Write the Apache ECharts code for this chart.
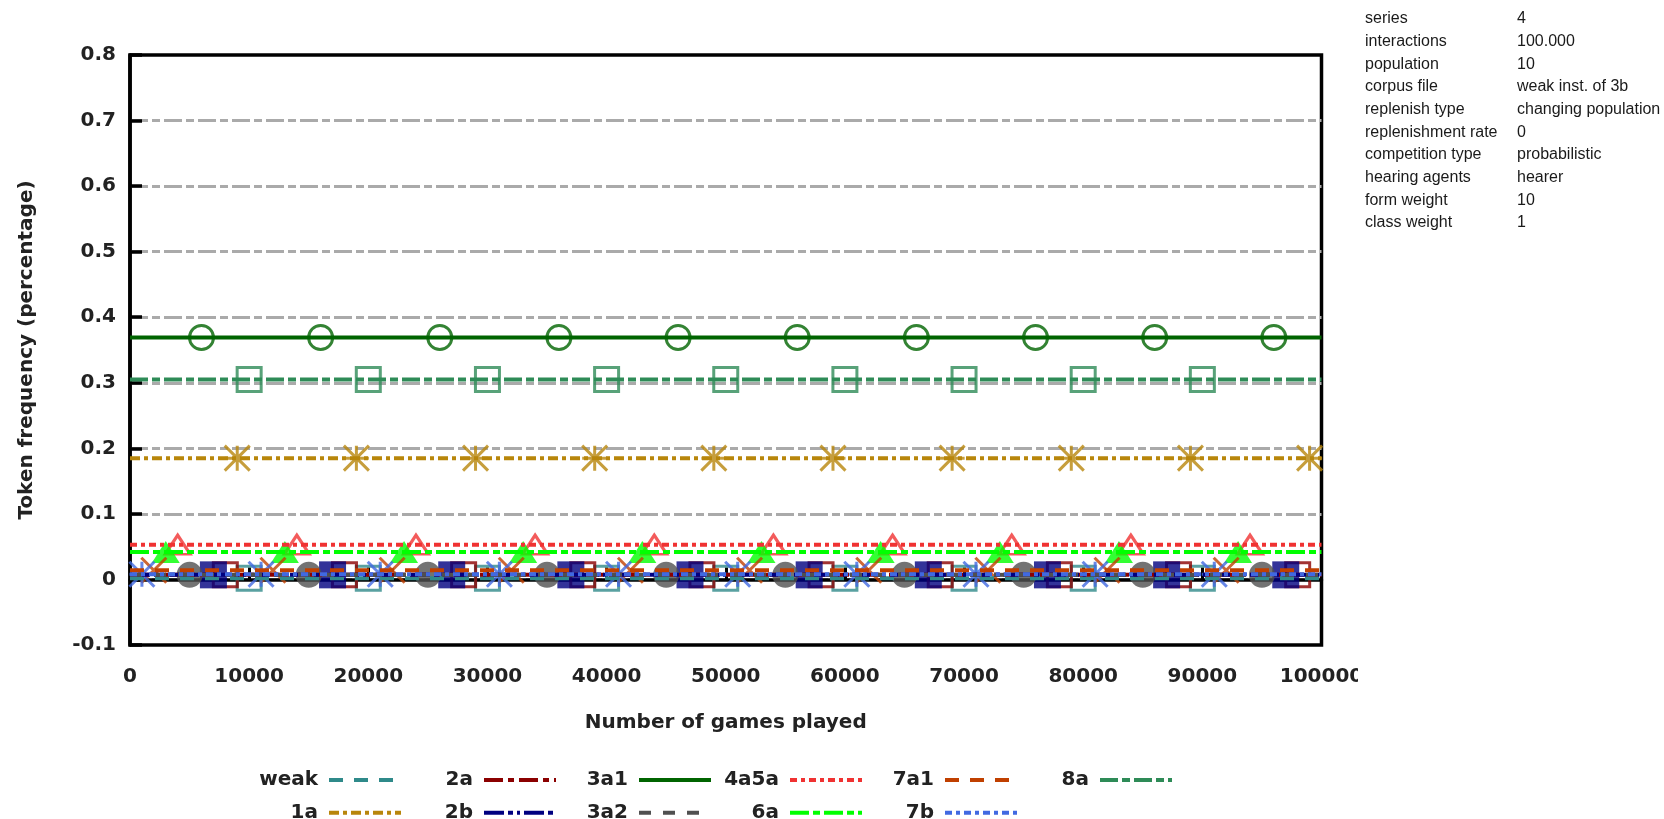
<!DOCTYPE html>
<html><head><meta charset="utf-8">
<script src="https://cdn.jsdelivr.net/npm/echarts@6/dist/echarts.min.js"></script>
<style>html,body{margin:0;padding:0;background:#fff}#c{width:1664px;height:819px}</style>
</head><body><div id="c"></div>
<script>
// ---------- data ----------
const seriesNames = ['weak', '1a', '2a', '2b', '3a1', '3a2', '4a5a', '6a', '7a1', '7b', '8a'];
// constant token frequency of each series
const seriesLevels = [0.002, 0.185, 0.007, 0.007, 0.369, 0.007, 0.053, 0.042, 0.014, 0.008, 0.305];
const lineX = [0, 100000];
// x positions of the point markers of each series
const markerX_weak = [10000, 20000, 30000, 40000, 50000, 60000, 70000, 80000, 90000];
const markerX_1a   = [9000, 19000, 29000, 39000, 49000, 59000, 69000, 79000, 89000, 99000];
const markerX_2a   = [8000, 18000, 28000, 38000, 48000, 58000, 68000, 78000, 88000, 98000];
const markerX_2b   = [7000, 17000, 27000, 37000, 47000, 57000, 67000, 77000, 87000, 97000];
const markerX_3a1  = [6000, 16000, 26000, 36000, 46000, 56000, 66000, 76000, 86000, 96000];
const markerX_3a2  = [5000, 15000, 25000, 35000, 45000, 55000, 65000, 75000, 85000, 95000];
const markerX_4a5a = [4000, 14000, 24000, 34000, 44000, 54000, 64000, 74000, 84000, 94000];
const markerX_6a   = [3000, 13000, 23000, 33000, 43000, 53000, 63000, 73000, 83000, 93000];
const markerX_7a1  = [2000, 12000, 22000, 32000, 42000, 52000, 62000, 72000, 82000, 92000];
const markerX_7b   = [1000, 11000, 21000, 31000, 41000, 51000, 61000, 71000, 81000, 91000];
const markerX_8a   = [10000, 20000, 30000, 40000, 50000, 60000, 70000, 80000, 90000];
const markerXs = [markerX_weak, markerX_1a, markerX_2a, markerX_2b, markerX_3a1, markerX_3a2,
                  markerX_4a5a, markerX_6a, markerX_7a1, markerX_7b, markerX_8a];

const xAxisTitle = 'Number of games played';
const yAxisTitle = 'Token frequency (percentage)';
const infoLabels = ['series', 'interactions', 'population', 'corpus file', 'replenish type',
  'replenishment rate', 'competition type', 'hearing agents', 'form weight', 'class weight'];
const infoValues = ['4', '100.000', '10', 'weak inst. of 3b', 'changing population',
  '0', 'probabilistic', 'hearer', '10', '1'];
const legendColumns = [['weak', '1a'], ['2a', '2b'], ['3a1', '3a2'], ['4a5a', '6a'], ['7a1', '7b'], ['8a']];

// ---------- styles ----------
const colors = ['#2f8a8a', '#b8860b', '#8b0000', '#000080', '#006400', '#505050',
                '#f03232', '#00ff00', '#c04000', '#4169e1', '#2e8b57'];
const dashes = [[14, 11], [10, 4, 4, 4], [19, 5, 6, 5], [20, 4, 5, 4, 3, 4], 'solid', [12, 12],
                [7, 4, 4, 4], [19, 4, 7, 4], [14, 11], [7, 4, 4, 4], [18, 4, 8, 4]];
const P_AST = 'path://M0,0L10,10M10,0L0,10M5,0L5,10M0,5L10,5';
const P_X = 'path://M0,0L10,10M10,0L0,10';
const marks = [
  {symbol: 'rect', size: 24, open: true},
  {symbol: P_AST, size: 25, open: true},
  {symbol: 'rect', size: 24, open: true},
  {symbol: 'rect', size: 27, open: false},
  {symbol: 'circle', size: 24, open: true},
  {symbol: 'circle', size: 26, open: false},
  {symbol: 'triangle', size: [25, 19], open: true},
  {symbol: 'triangle', size: [28, 22], open: false},
  {symbol: P_X, size: 25, open: true},
  {symbol: P_AST, size: 25, open: true},
  {symbol: 'rect', size: 24, open: true}
];

const FONT = 'DejaVu Sans';
const TXT = '#222';
const FW = 'bold';
const FS = 20;

const series = [];
seriesNames.forEach((name, i) => {
  series.push({
    name: name, type: 'line', symbol: 'none', silent: true,
    data: lineX.map(x => [x, seriesLevels[i]]),
    lineStyle: {color: colors[i], width: 4, type: dashes[i]},
    itemStyle: {color: colors[i]}
  });
  const m = marks[i];
  series.push({
    name: name + ' points', type: 'scatter', silent: true,
    symbol: m.symbol, symbolSize: m.size,
    data: markerXs[i].map(x => [x, seriesLevels[i]]),
    itemStyle: m.open
      ? {color: 'rgba(0,0,0,0)', borderColor: colors[i], borderWidth: 3}
      : {color: colors[i]}
  });
});

const colStarts = [331, 486, 641, 792, 947, 1102];
const ITEM_W = 72;
const legends = legendColumns.map((col, k) => ({
  data: col, orient: 'vertical', align: 'right',
  right: 1664 - (colStarts[k] + ITEM_W), top: 770, height: 80, padding: 0,
  itemWidth: ITEM_W, itemHeight: 14, itemGap: 12.7,
  selectedMode: false,
  itemStyle: {opacity: 0},
  lineStyle: {width: 4},
  textStyle: {fontFamily: FONT, fontSize: FS, fontWeight: FW, color: TXT, padding: [0, 6, 0, 0]}
}));

const graphics = [];
infoLabels.forEach((t, r) => {
  const y = 18.7 + r * 22.7;
  graphics.push({type: 'text', z: 100, style: {x: 1365, y: y, text: t, fill: '#1a1a1a',
    font: '16px "Liberation Sans", Arial', verticalAlign: 'middle'}});
  graphics.push({type: 'text', z: 100, style: {x: 1517, y: y, text: infoValues[r], fill: '#1a1a1a',
    font: '16px "Liberation Sans", Arial', verticalAlign: 'middle'}});
});
// white panel edge that crops the last x label, as in the reference
graphics.push({type: 'rect', z: 90, shape: {x: 1358, y: 655, width: 306, height: 45}, style: {fill: '#fff'}});

const chart = echarts.init(document.getElementById('c'), null, {renderer: 'canvas'});
chart.setOption({
  animation: false,
  backgroundColor: '#fff',
  grid: {left: 130, right: 342.5, top: 55, bottom: 174, show: true,
         borderColor: '#000', borderWidth: 3.5, backgroundColor: 'rgba(0,0,0,0)'},
  xAxis: {
    type: 'value', min: 0, max: 100000, interval: 10000,
    name: xAxisTitle, nameLocation: 'middle', nameGap: 68,
    nameTextStyle: {fontFamily: FONT, fontSize: FS, fontWeight: FW, color: TXT},
    axisLine: {show: true, lineStyle: {color: '#000', width: 3.5}},
    axisTick: {show: true, inside: true, length: 12, lineStyle: {color: '#000', width: 3}},
    axisLabel: {fontFamily: FONT, fontSize: FS, fontWeight: FW, color: TXT, margin: 22,
                formatter: v => String(v)},
    splitLine: {show: false}
  },
  yAxis: {
    type: 'value', min: -0.1, max: 0.8, interval: 0.1,
    name: yAxisTitle, nameLocation: 'middle', nameGap: 93,
    nameTextStyle: {fontFamily: FONT, fontSize: FS, fontWeight: FW, color: TXT},
    axisLine: {show: true, lineStyle: {color: '#000', width: 3.5}},
    axisTick: {show: true, inside: true, length: 12, lineStyle: {color: '#000', width: 3.5}},
    axisLabel: {fontFamily: FONT, fontSize: FS, fontWeight: FW, color: TXT, margin: 14},
    splitLine: {show: true, showMinLine: false, showMaxLine: false,
                lineStyle: {color: '#aaaaaa', width: 3, type: [18, 4, 8, 4]}}
  },
  legend: legends,
  series: series,
  graphic: graphics
});
</script></body></html>
